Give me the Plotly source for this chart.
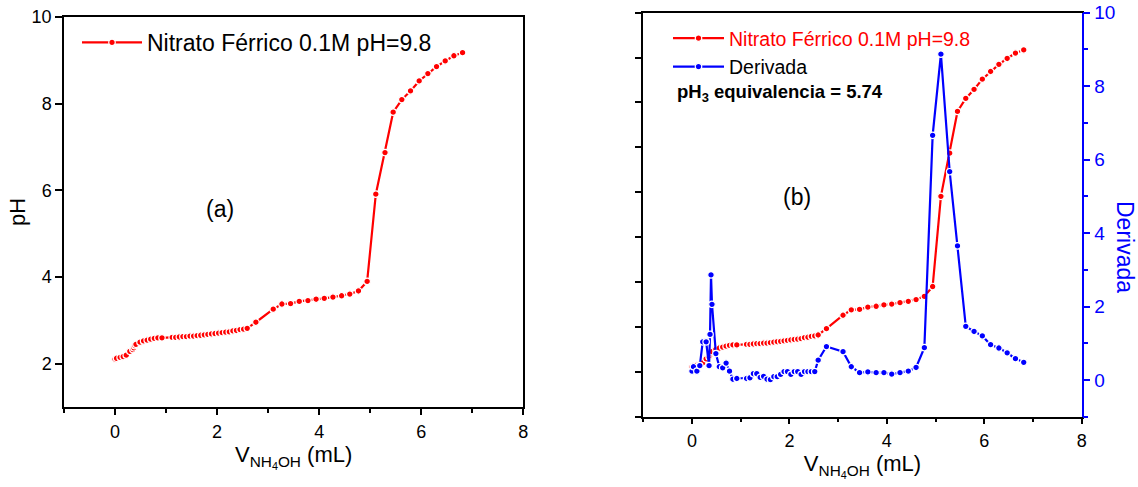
import plotly.graph_objects as go

# ---- data ----
V_mL = [0.00, 0.03, 0.10, 0.16, 0.22, 0.29, 0.35, 0.37, 0.39, 0.41, 0.49, 0.56, 0.63, 0.70, 0.77, 0.84, 0.92,
        1.12, 1.19, 1.26, 1.33, 1.40, 1.47, 1.54, 1.61, 1.68, 1.75, 1.82, 1.89, 1.96, 2.03, 2.10, 2.17, 2.24,
        2.31, 2.38, 2.45, 2.52, 2.59,
        2.76, 3.10, 3.27, 3.44, 3.61, 3.78, 3.94, 4.10, 4.27, 4.44, 4.60, 4.77, 4.94, 5.11, 5.29, 5.45, 5.62,
        5.79, 5.96, 6.13, 6.30, 6.47, 6.64, 6.81]
pH_vals = [2.11, 2.13, 2.15, 2.17, 2.20, 2.29, 2.33, 2.37, 2.42, 2.45, 2.50, 2.53, 2.55, 2.57, 2.59, 2.60, 2.60,
           2.61, 2.61, 2.62, 2.63, 2.63, 2.64, 2.64, 2.65, 2.66, 2.67, 2.68, 2.69, 2.70, 2.71, 2.72, 2.73, 2.74,
           2.76, 2.77, 2.79, 2.80, 2.82,
           2.96, 3.26, 3.38, 3.39, 3.44, 3.46, 3.49, 3.51, 3.54, 3.57, 3.61, 3.68, 3.90, 5.91, 6.87, 7.80, 8.09,
           8.29, 8.52, 8.69, 8.85, 8.98, 9.10, 9.17]
deriv_vals = [0.24, 0.36, 0.24, 0.39, 1.04, 1.04, 0.39, 1.24, 2.86, 2.06, 0.72, 0.36, 0.33, 0.46, 0.24, 0.02, 0.04,
              0.04, 0.06, 0.17, 0.17, 0.07, 0.10, 0.02, 0.01, 0.09, 0.09, 0.15, 0.23, 0.23, 0.15, 0.23, 0.23, 0.15,
              0.23, 0.23, 0.23, 0.23, 0.54,
              0.91, 0.77, 0.36, 0.20, 0.22, 0.20, 0.20, 0.16, 0.20, 0.24, 0.34, 0.88, 6.66, 8.87, 5.67, 3.65, 1.46,
              1.32, 1.20, 0.96, 0.87, 0.74, 0.58, 0.48]

series_label = "Nitrato Férrico 0.1M pH=9.8"
deriv_label = "Derivada"
x_title = "V<sub>NH<sub>4</sub>OH</sub> (mL)"
equiv_text = "<b>pH<sub>3</sub> equivalencia = 5.74</b>"

FONT = "Liberation Sans, Arial, sans-serif"
RED = "#ff0000"
BLUE = "#0000ff"

W, H = 1138, 487
def px_x(a, b):
    return [a / W, b / W]
def px_y(top, bottom):
    return [(H - bottom) / H, (H - top) / H]

marker_red = dict(size=6.5, color=RED, line=dict(color="white", width=1.2))
marker_blue = dict(size=6.5, color=BLUE, line=dict(color="white", width=1.2))

fig = go.Figure()

# left panel
fig.add_trace(go.Scatter(x=V_mL, y=pH_vals, mode="lines+markers", name=series_label,
                         line=dict(color=RED, width=2.2), marker=marker_red,
                         xaxis="x", yaxis="y", legend="legend", showlegend=True))
# right panel
fig.add_trace(go.Scatter(x=V_mL, y=pH_vals, mode="lines+markers",
                         name=f'<span style="color:{RED}">{series_label}</span>',
                         line=dict(color=RED, width=2.2), marker=marker_red,
                         xaxis="x2", yaxis="y2", legend="legend2", showlegend=True))
fig.add_trace(go.Scatter(x=V_mL, y=deriv_vals, mode="lines+markers", name=deriv_label,
                         line=dict(color=BLUE, width=2.2), marker=marker_blue,
                         xaxis="x2", yaxis="y3", legend="legend2", showlegend=True))

axfont = dict(family=FONT, size=18, color="black")
common_x = dict(range=[-1, 8], dtick=2, tick0=0, ticks="outside", ticklen=6, tickwidth=1.5,
                tickcolor="black", showline=True, linecolor="black", linewidth=1.5, mirror=True,
                showgrid=False, zeroline=False, tickfont=axfont, ticklabelstandoff=1, automargin=False,
                minor=dict(dtick=1, tick0=0, ticks="outside", ticklen=4, tickwidth=1.5, tickcolor="black"),
                title=dict(text=x_title, font=dict(family=FONT, size=22, color="black"), standoff=6))

fig.update_layout(
    width=W, height=H, margin=dict(l=0, r=0, t=0, b=0, autoexpand=False),
    paper_bgcolor="white", plot_bgcolor="white", showlegend=True,
    font=dict(family=FONT, color="black"),
    xaxis=dict(domain=px_x(64, 523.3), anchor="y", **common_x),
    yaxis=dict(domain=px_y(16.7, 407.3), anchor="x", range=[1, 10], dtick=2, tick0=0,
               ticks="outside", ticklen=7, tickwidth=1.5, tickcolor="black",
               showline=True, linecolor="black", linewidth=1.5, mirror=True, automargin=False,
               showgrid=False, zeroline=False, tickfont=axfont,
               title=dict(text="pH", font=dict(family=FONT, size=22, color="black"), standoff=0)),
    xaxis3=dict(overlaying="x", anchor="y", side="top", range=[-1, 8], dtick=1, tick0=0,
                ticks="inside", ticklen=5, tickwidth=1.5, tickcolor="black", automargin=False,
                showticklabels=False, showline=False, showgrid=False, zeroline=False),
    xaxis2=dict(domain=px_x(643.3, 1081.7), anchor="y2", **common_x),
    yaxis2=dict(domain=px_y(12.7, 416.7), anchor="x2", range=[1, 10], dtick=1, tick0=0,
                ticks="outside", ticklen=7, tickwidth=1.5, tickcolor="black", automargin=False,
                showline=True, linecolor="black", linewidth=1.5, mirror=False,
                showgrid=False, zeroline=False, showticklabels=False),
    yaxis3=dict(overlaying="y2", anchor="x2", side="right", range=[-1, 10], dtick=2, tick0=0,
                ticks="outside", ticklen=7, tickwidth=1.5, tickcolor=BLUE, automargin=False,
                showline=True, linecolor=BLUE, linewidth=1.5,
                showgrid=False, zeroline=False,
                tickfont=dict(family=FONT, size=19, color=BLUE),
                minor=dict(dtick=1, tick0=0, ticks="outside", ticklen=5, tickwidth=1.5, tickcolor=BLUE)),
    xaxis4=dict(overlaying="x2", anchor="y2", side="top", range=[-1, 8], dtick=1, tick0=0,
                ticks="inside", ticklen=5, tickwidth=1.5, tickcolor="black", automargin=False,
                showticklabels=False, showline=False, showgrid=False, zeroline=False),
    legend=dict(x=77 / W, y=1 - 21 / H, xanchor="left", yanchor="top", bgcolor="rgba(0,0,0,0)",
                itemwidth=60, font=dict(family=FONT, size=23, color="black")),
    legend2=dict(x=668 / W, y=1 - 19 / H, xanchor="left", yanchor="top", bgcolor="rgba(0,0,0,0)",
                 itemwidth=51, tracegroupgap=0,
                 font=dict(family=FONT, size=19.5, color="black")),
    annotations=[
        dict(text="(a)", x=2.05, y=5.56, xref="x", yref="y", showarrow=False,
             font=dict(family=FONT, size=23, color="black")),
        dict(text="(b)", x=2.16, y=5.9, xref="x2", yref="y2", showarrow=False,
             font=dict(family=FONT, size=23, color="black")),
        dict(text=equiv_text, x=675 / W, y=1 - 93 / H, xref="paper", yref="paper",
             xanchor="left", yanchor="middle", showarrow=False,
             font=dict(family=FONT, size=18.5, color="black")),
        dict(text=deriv_label, x=1125 / W, y=1 - 247 / H, xref="paper", yref="paper",
             xanchor="center", yanchor="middle",
             textangle=90, showarrow=False, font=dict(family=FONT, size=23, color=BLUE)),
    ],
)

fig.write_html("out.html", config={"displayModeBar": False},
               post_script="document.body.style.margin='0';document.body.style.padding='0';")
